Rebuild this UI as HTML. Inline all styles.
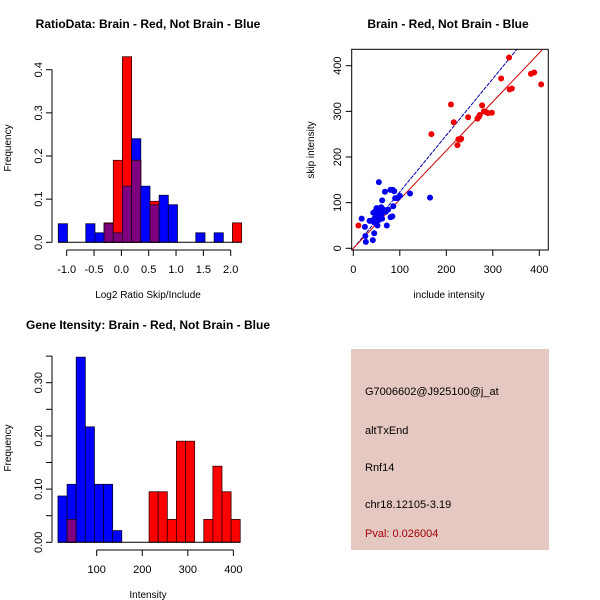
<!DOCTYPE html>
<html><head><meta charset="utf-8"><style>
body{margin:0;background:#fff}
svg{display:block;font-family:"Liberation Sans",sans-serif}
</style></head><body>
<svg id="c" width="600" height="600" viewBox="0 0 600 600">
<rect width="600" height="600" fill="#fff"/>
<text x="148" y="28" font-size="12" font-weight="bold" text-anchor="middle">RatioData: Brain - Red, Not Brain - Blue</text>
<text x="448" y="28" font-size="12" font-weight="bold" text-anchor="middle">Brain - Red, Not Brain - Blue</text>
<text x="148" y="329" font-size="12" font-weight="bold" text-anchor="middle">Gene Itensity: Brain - Red, Not Brain - Blue</text>
<g>
<rect x="351" y="349" width="198" height="201" fill="#e6c8c2"/>
<text x="365" y="395" font-size="11">G7006602@J925100@j_at</text>
<text x="365" y="434" font-size="11">altTxEnd</text>
<text x="365" y="471" font-size="11">Rnf14</text>
<text x="365" y="508" font-size="11">chr18.12105-3.19</text>
<text x="365" y="537" font-size="11" fill="#a00000">Pval: 0.026004</text>
</g>
</svg>
<script>
// ---- Ratio histogram data ----
const ratioStart=-1.154, ratioWidth=0.1677;
const ratioBlue=[0.043,0,0,0.043,0.022,0.043,0.022,0.13,0.24,0.13,0.087,0.109,0.087,0,0,0.022,0,0.022,0,0];
const ratioRed=[0,0,0,0,0,0.045,0.19,0.43,0.19,0,0.095,0,0,0,0,0,0,0,0,0.045];
const ratioXTicks=[-1.0,-0.5,0.0,0.5,1.0,1.5,2.0];
const ratioXLabels=["-1.0","-0.5","0.0","0.5","1.0","1.5","2.0"];
const ratioYTicks=[0,0.1,0.2,0.3,0.4];
const ratioYLabels=["0.0","0.1","0.2","0.3","0.4"];
// ---- Intensity histogram data ----
const intStart=15, intWidth=20;
const intBlue=[0.087,0.109,0.348,0.217,0.109,0.109,0.022,0,0,0,0,0,0,0,0,0,0,0,0,0];
const intRed=[0,0.043,0,0,0,0,0,0,0,0,0.095,0.095,0.043,0.19,0.19,0,0.043,0.143,0.095,0.043];
const intXTicks=[100,200,300,400];
const intYTicks=[0,0.05,0.1,0.15,0.2,0.25,0.3,0.35];
const intYLabels=["0.00","","0.10","","0.20","","0.30",""];
// ---- Scatter data ----
const redX=[11,168,210,216,224,226,232,230,247,267,270,272,277,281,286,290,298,318,335,336,341,382,389,404];
const redY=[50,250,315,276,226,239,240,238,287,284,288,292,313,300,298,296,297,372,418,348,350,382,385,359];
const blueX=[18,25,26,27,40,42,45,43,46,48,50,52,55,55,57,58,60,62,62,65,68,70,72,75,80,80,84,85,86,88,90,95,100,122,165,35,50,60,45,52,65,55];
const blueY=[65,47,27,14,60,18,33,78,56,82,88,70,62,145,88,80,72,65,105,85,124,80,50,85,68,128,70,128,92,125,110,110,115,120,111,60,75,90,65,50,80,68];
const scatterTicks=[0,100,200,300,400];
const redFit=[0,1.07];   // intercept, slope
const blueFit=[-0.5,1.24];

const svg=document.getElementById('c');
const NS='http://www.w3.org/2000/svg';
function mk(tag,attrs,parent){const e=document.createElementNS(NS,tag);for(const k in attrs)e.setAttribute(k,attrs[k]);(parent||svg).appendChild(e);return e;}

function hist(g,sx,sy,start,w,blue,red,name){
  const n=blue.length;
  for(let i=0;i<n;i++){
    const x0=sx(start+i*w),x1=sx(start+(i+1)*w);
    const b=blue[i],r=red[i];
    if(b>0){const e=mk('rect',{x:x0,y:sy(b),width:x1-x0,height:sy(0)-sy(b),fill:'#0000ff',stroke:'#000033','stroke-width':0.8},g);
      
      }
    if(r>0){const e=mk('rect',{x:x0,y:sy(r),width:x1-x0,height:sy(0)-sy(r),fill:'#ff0000',stroke:'#330000','stroke-width':0.8},g);
      
      }
    const m=Math.min(b,r);
    if(m>0){const e=mk('rect',{x:x0,y:sy(m),width:x1-x0,height:sy(0)-sy(m),fill:'#7f007f',stroke:'#200020','stroke-width':0.8},g);
      
      }
  }
  const bl=mk('line',{x1:sx(start),x2:sx(start+n*w),y1:sy(0),y2:sy(0),stroke:'#000','stroke-width':1},g);
  
  
}
function yaxis(g,x,sy,ticks,labels,name){
  const a=mk('line',{x1:x,x2:x,y1:sy(ticks[0]),y2:sy(ticks[ticks.length-1]),stroke:'#000'},g);
  
  
  ticks.forEach((t,i)=>{mk('line',{x1:x-6,x2:x,y1:sy(t),y2:sy(t),stroke:'#000'},g);
    if(labels[i]){const tx=mk('text',{x:x-10,y:sy(t),'font-size':11,'text-anchor':'middle',transform:`rotate(-90 ${x-10} ${sy(t)})`},g);tx.textContent=labels[i];
      
      }});
}
function xaxis(g,y,sx,ticks,labels,name){
  const a=mk('line',{x1:sx(ticks[0]),x2:sx(ticks[ticks.length-1]),y1:y,y2:y,stroke:'#000'},g);
  
  
  ticks.forEach((t,i)=>{mk('line',{x1:sx(t),x2:sx(t),y1:y,y2:y+6,stroke:'#000'},g);
    const tx=mk('text',{x:sx(t),y:y+23,'font-size':11,'text-anchor':'middle'},g);tx.textContent=labels[i];
    
    });
}
function label(txt,x,y,rot,name){const t=mk('text',{x:x,y:y,'font-size':10,'text-anchor':'middle'});if(rot)t.setAttribute('transform',`rotate(-90 ${x} ${y})`);t.textContent=txt;
  
  }

// Ratio histogram
{const g=mk('g',{});


const sx=v=>66.7+(v+1)*54.67, sy=v=>242.3-v*431.5;
hist(g,sx,sy,ratioStart,ratioWidth,ratioBlue,ratioRed,'ratio');
yaxis(g,52,sy,ratioYTicks,ratioYLabels,'ratio');
xaxis(g,250,sx,ratioXTicks,ratioXLabels,'ratio');
label('Log2 Ratio Skip/Include',148,298,false,'ratio-x-title');
label('Frequency',11,148,true,'ratio-y-title');}

// Intensity histogram
{const g=mk('g',{});


const sx=v=>96.7+(v-100)*0.4556, sy=v=>542.3-v*532;
hist(g,sx,sy,intStart,intWidth,intBlue,intRed,'intensity');
yaxis(g,52,sy,intYTicks,intYLabels,'intensity');
xaxis(g,550,sx,intXTicks,intXTicks.map(String),'intensity');
label('Intensity',148,598,false,'intensity-x-title');
label('Frequency',11,448,true,'intensity-y-title');}

// Scatter
{const g=mk('g',{});


const sx=v=>353.3+v*0.465, sy=v=>248.3-v*0.4565;
const cp=mk('clipPath',{id:'sc'},g);mk('rect',{x:351.7,y:49.3,width:196.6,height:200.7},cp);
const lg=mk('g',{'clip-path':'url(#sc)'},g);
const bl=mk('line',{x1:sx(-20),y1:sy(blueFit[0]-20*blueFit[1]),x2:sx(420),y2:sy(blueFit[0]+420*blueFit[1]),stroke:'#0000aa','stroke-width':1,'stroke-dasharray':'4,1'},lg);


const rl=mk('line',{x1:sx(-20),y1:sy(redFit[0]-20*redFit[1]),x2:sx(420),y2:sy(redFit[0]+420*redFit[1]),stroke:'#cc0000','stroke-width':1},lg);


blueX.forEach((x,i)=>{const c=mk('circle',{cx:sx(x),cy:sy(blueY[i]),r:3,fill:'#0000ee'},lg);
  
  });
redX.forEach((x,i)=>{const c=mk('circle',{cx:sx(x),cy:sy(redY[i]),r:3,fill:'#ee0000'},lg);
  
  });
const box=mk('rect',{x:351.7,y:49.3,width:196.6,height:200.7,fill:'none',stroke:'#000'},g);


scatterTicks.forEach(t=>{
  mk('line',{x1:sx(t),x2:sx(t),y1:250,y2:256,stroke:'#000'},g);
  const a=mk('text',{x:sx(t),y:273,'font-size':11,'text-anchor':'middle'},g);a.textContent=t;
  
  
  mk('line',{x1:345.7,x2:351.7,y1:sy(t),y2:sy(t),stroke:'#000'},g);
  const b=mk('text',{x:341,y:sy(t),'font-size':11,'text-anchor':'middle',transform:`rotate(-90 341 ${sy(t)})`},g);b.textContent=t;
  
  
});
label('include intensity',449,298,false,'scatter-x-title');
label('skip intensity',314,150,true,'scatter-y-title');}
</script>
</body></html>
